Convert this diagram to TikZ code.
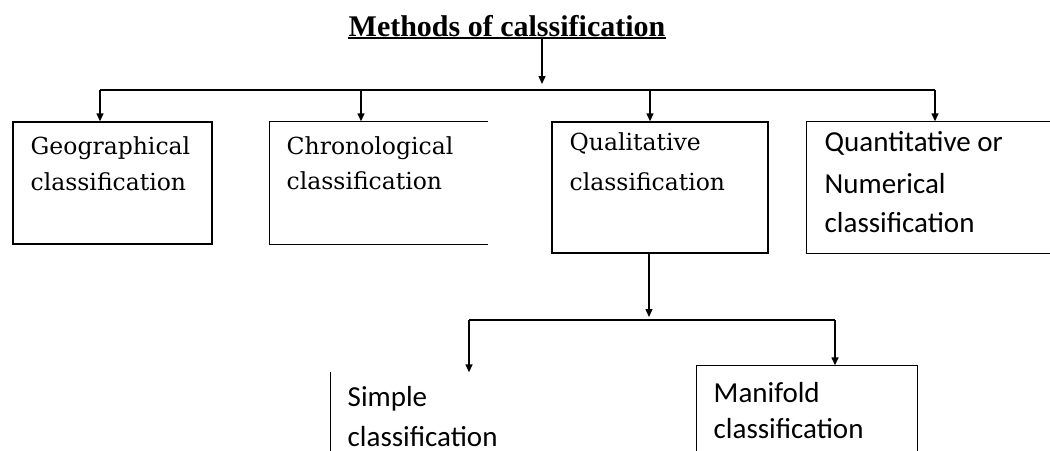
\documentclass[tikz,border=0pt]{standalone}
\usepackage{fontspec}
\setmainfont{DejaVu Serif}
\newfontfamily\titlefont{Liberation Serif}
\newfontfamily\calfont{Carlito}
\usetikzlibrary{arrows.meta}
\begin{document}
\begin{tikzpicture}[x=1pt,y=-1pt,
  line width=1.4pt,
  arr/.style={-{Triangle[length=8pt,width=7pt]}},
  sertext/.style={anchor=west,inner sep=0pt,font=\fontsize{23.5}{28}\selectfont},
  caltext/.style={anchor=west,inner sep=0pt,font=\calfont\fontsize{29}{34}\selectfont},
  area/.style={inner sep=0pt},
]
\useasboundingbox (0,0) rectangle (1050,450);
% title
\node[inner sep=0pt,font=\titlefont\bfseries\fontsize{30}{36}\selectfont] (title) at (507,26) {Methods of calssification};
\draw[line width=2pt] (title.south west |- 0,38) -- (title.south east |- 0,38);
\coordinate (tbot) at (542,38);
\coordinate (bus1) at (542,84);
\coordinate (bL) at (100,90);
\coordinate (bR) at (935,90);
% boxes
\node[draw,area,minimum width=199pt,minimum height=122pt] (geo) at (112.5,183) {};
\node[area,minimum width=217pt,minimum height=122pt] (chrono) at (378.5,183) {};
\draw (chrono.north east) -- (chrono.north west) -- (chrono.south west) -- (chrono.south east);
\node[draw,area,minimum width=216pt,minimum height=131pt] (qual) at (660,187.5) {};
\node[area,minimum width=245pt,minimum height=131pt] (quant) at (929.5,187.5) {};
\draw (quant.north east) -- (quant.north west) -- (quant.south west) -- (quant.south east);
\node[area,minimum width=200pt,minimum height=79pt] (simple) at (431,412.5) {};
\draw (simple.north west) -- (simple.south west);
\node[area,minimum width=220pt,minimum height=86pt] (mani) at (807,409) {};
\draw (mani.south west) -- (mani.north west) -- (mani.north east) -- (mani.south east);
% texts
\node[sertext] (t1) at (30,148) {Geographical};
\node[sertext] (t2) at (30,182) {classification};
\node[sertext] (t3) at (286,148) {Chronological};
\node[sertext] (t4) at (286,181) {classification};
\node[sertext] (t5) at (569,143) {Qualitative};
\node[sertext] (t6) at (569,182) {classification};
\node[caltext] (t7) at (824,143) {Quantitative or};
\node[caltext] (t8) at (824,184) {Numerical};
\node[caltext] (t9) at (824,223) {classification};
\node[caltext] (t10) at (347,399) {Simple};
\node[caltext] (t11) at (347,437) {classification};
\node[caltext] (t12) at (713,393) {Manifold};
\node[caltext] (t13) at (713,429) {classification};
% connectors level 1
\draw[arr] (tbot) -- (bus1);
\draw (bL) -- (bR);
\coordinate (c2) at (361,90);
\coordinate (c3) at (650,90);
\draw[arr] (bL) -- (bL |- geo.north);
\draw[arr] (c2) -- (c2 |- chrono.north);
\draw[arr] (c3) -- (c3 |- qual.north);
\draw[arr] (bR) -- (bR |- quant.north);
% connectors level 2
\coordinate (qdown) at (649,317);
\coordinate (b2L) at (469,320);
\coordinate (b2R) at (835,320);
\draw[arr] (qdown |- qual.south) -- (qdown);
\draw (b2L) -- (b2R);
\draw[arr] (b2L) -- (b2L |- simple.north);
\draw[arr] (b2R) -- (b2R |- mani.north);
\end{tikzpicture}
\end{document}
